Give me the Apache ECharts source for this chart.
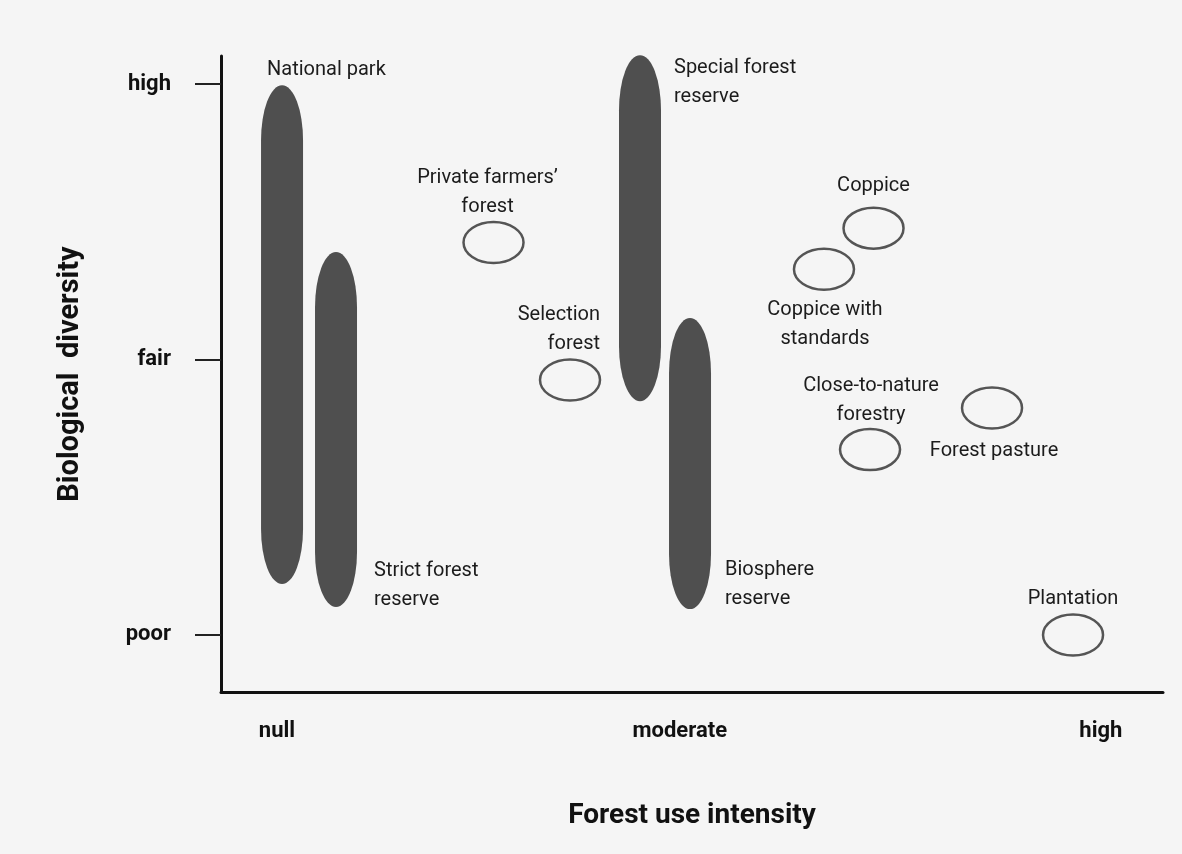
<!DOCTYPE html>
<html>
<head>
<meta charset="utf-8">
<title>Forest use intensity vs biological diversity</title>
<script src="https://cdn.jsdelivr.net/npm/echarts@6/dist/echarts.min.js"></script>
<style>
  html, body { margin: 0; padding: 0; background: #f5f5f5; }
  #chart { width: 1182px; height: 854px; }
</style>
</head>
<body>
<div id="chart"></div>
<script>
  // axis ticks: x is a 0-100 intensity scale, y is poor=0 / fair=1 / high=2
  const xTickValues = [5.94, 48.7, 93.4];
  const xTickLabels = ['null', 'moderate', 'high'];
  const yTickValues = [0, 1, 2];
  const yTickLabels = ['poor', 'fair', 'high'];

  // protected areas (filled bars spanning a diversity range)
  const reserveNames = ['National park', 'Strict forest\nreserve', 'Special forest\nreserve', 'Biosphere\nreserve'];
  const reserveIntensity = [6.48, 12.21, 44.48, 49.79];
  const reserveTop = [1.996, 1.39, 2.105, 1.151];
  const reserveBottom = [0.185, 0.102, 0.849, 0.094];

  // forest use types (open ellipses)
  const useNames = [
    'Private farmers’\nforest',
    'Selection\nforest',
    'Coppice',
    'Coppice with\nstandards',
    'Close-to-nature\nforestry',
    'Forest pasture',
    'Plantation',
  ];
  const useIntensity = [28.93, 37.05, 69.27, 64.01, 68.9, 81.85, 90.45];
  const useDiversity = [1.425, 0.926, 1.477, 1.328, 0.673, 0.824, 0];

  // where each label sits relative to its mark (pixels)
  const reserveLabels = [
    { anchor: 'top', dx: -15, dy: -15, align: 'left' },
    { anchor: 'bottom', dx: 38, dy: -21.5, align: 'left' },
    { anchor: 'top', dx: 34, dy: 27, align: 'left' },
    { anchor: 'bottom', dx: 35, dy: -24.5, align: 'left' },
  ];
  const useLabels = [
    { dx: -6, dy: -49.5, align: 'center' },
    { dx: 30, dy: -50, align: 'right' },
    { dx: 0, dy: -42, align: 'center' },
    { dx: 1, dy: 55.5, align: 'center' },
    { dx: 1, dy: -49.5, align: 'center' },
    { dx: 2, dy: 43, align: 'center' },
    { dx: 0, dy: -36, align: 'center' },
  ];

  const labelFont = '20px Roboto';
  const textColor = '#1c1c1c';

  function capsulePath(cx, yTop, yBot, w, capH) {
    const rx = w / 2;
    const x0 = cx - rx;
    const x1 = cx + rx;
    const ry = Math.min(capH, (yBot - yTop) / 2);
    return 'M' + x0 + ' ' + (yTop + ry) +
      ' A' + rx + ' ' + ry + ' 0 0 1 ' + x1 + ' ' + (yTop + ry) +
      ' L' + x1 + ' ' + (yBot - ry) +
      ' A' + rx + ' ' + ry + ' 0 0 1 ' + x0 + ' ' + (yBot - ry) + ' Z';
  }

  function labelText(name, x, y, lay) {
    return {
      type: 'text',
      style: {
        text: name,
        x: x + lay.dx,
        y: y + lay.dy,
        align: lay.align,
        verticalAlign: 'middle',
        font: labelFont,
        lineHeight: 29,
        fill: textColor,
      },
    };
  }

  const chart = echarts.init(document.getElementById('chart'));

  const option = {
    backgroundColor: '#f5f5f5',
    animation: false,
    grid: { left: 221, right: 19, top: 56, bottom: 162 },
    xAxis: {
      type: 'value',
      min: 0,
      max: 100,
      name: 'Forest use intensity',
      nameLocation: 'middle',
      nameGap: 110,
      nameTextStyle: { fontFamily: 'Roboto', fontWeight: 'bold', fontSize: 28, color: '#111' },
      axisLine: { show: true, onZero: false, lineStyle: { color: '#111', width: 3 } },
      axisTick: { show: false },
      splitLine: { show: false },
      axisLabel: {
        customValues: xTickValues,
        margin: 28,
        fontFamily: 'Roboto',
        fontWeight: 'bold',
        fontSize: 22,
        color: '#111',
        formatter: (v) => {
          let best = 0;
          xTickValues.forEach((t, i) => {
            if (Math.abs(t - v) < Math.abs(xTickValues[best] - v)) best = i;
          });
          return xTickLabels[best];
        },
      },
    },
    yAxis: {
      type: 'value',
      min: -0.207,
      max: 2.102,
      name: 'Biological  diversity',
      nameLocation: 'middle',
      nameGap: 136,
      nameTextStyle: { fontFamily: 'Roboto', fontWeight: 'bold', fontSize: 29, color: '#111' },
      axisLine: { show: true, onZero: false, lineStyle: { color: '#111', width: 3 } },
      axisTick: {
        show: true,
        customValues: yTickValues,
        length: 26,
        lineStyle: { color: '#222', width: 2 },
      },
      splitLine: { show: false },
      axisLabel: {
        customValues: yTickValues,
        margin: 50,
        fontFamily: 'Roboto',
        fontWeight: 'bold',
        fontSize: 22,
        color: '#111',
        formatter: (v) => yTickLabels[Math.round(v)],
      },
    },
    series: [
      {
        type: 'custom',
        name: 'reserves',
        clip: false,
        data: reserveNames.map((n, i) => [reserveIntensity[i], reserveTop[i], reserveBottom[i]]),
        renderItem: (params, api) => {
          const i = params.dataIndex;
          const top = api.coord([api.value(0), api.value(1)]);
          const bot = api.coord([api.value(0), api.value(2)]);
          const w = 42;
          const lay = reserveLabels[i];
          const ay = lay.anchor === 'top' ? top[1] : bot[1];
          return {
            type: 'group',
            children: [
              {
                type: 'path',
                shape: {
                  pathData: capsulePath(top[0], top[1], bot[1], w, 55),
                  x: top[0] - w / 2,
                  y: top[1],
                  width: w,
                  height: bot[1] - top[1],
                },
                style: { fill: '#4f4f4f' },
              },
              labelText(reserveNames[i], top[0], ay, lay),
            ],
          };
        },
      },
      {
        type: 'custom',
        name: 'uses',
        clip: false,
        data: useNames.map((n, i) => [useIntensity[i], useDiversity[i]]),
        renderItem: (params, api) => {
          const i = params.dataIndex;
          const c = api.coord([api.value(0), api.value(1)]);
          return {
            type: 'group',
            children: [
              {
                type: 'ellipse',
                shape: { cx: c[0], cy: c[1], rx: 30, ry: 20.5 },
                style: { fill: 'none', stroke: '#555', lineWidth: 2.5 },
              },
              labelText(useNames[i], c[0], c[1], useLabels[i]),
            ],
          };
        },
      },
    ],
  };

  chart.setOption(option);
  window.addEventListener('resize', () => chart.resize());
</script>
</body>
</html>
